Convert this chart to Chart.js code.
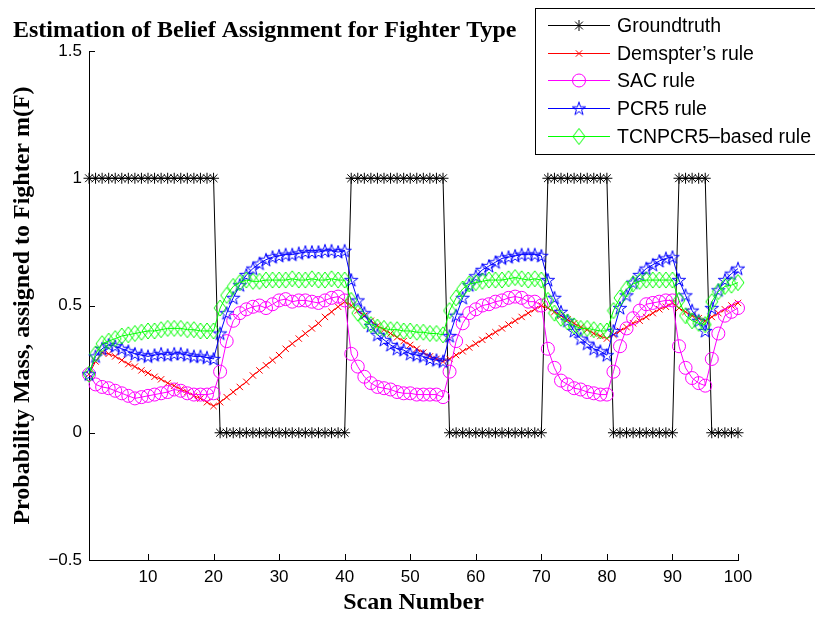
<!DOCTYPE html>
<html>
<head>
<meta charset="utf-8">
<script src="https://cdn.jsdelivr.net/npm/chart.js@4/dist/chart.umd.min.js"></script>
<style>
html, body { margin: 0; padding: 0; background: #fff; }
</style>
</head>
<body>
<canvas id="beliefChart" width="815" height="619"></canvas>
<script>
// scan index 1..100
const scanNumbers = Array.from({ length: 100 }, (_, i) => i + 1);

const groundtruth = [
    1, 1, 1, 1, 1, 1, 1, 1, 1, 1, 1, 1, 1, 1, 1, 1, 1, 1, 1, 1,
    0, 0, 0, 0, 0, 0, 0, 0, 0, 0, 0, 0, 0, 0, 0, 0, 0, 0, 0, 0,
    1, 1, 1, 1, 1, 1, 1, 1, 1, 1, 1, 1, 1, 1, 1,
    0, 0, 0, 0, 0, 0, 0, 0, 0, 0, 0, 0, 0, 0, 0,
    1, 1, 1, 1, 1, 1, 1, 1, 1, 1,
    0, 0, 0, 0, 0, 0, 0, 0, 0, 0,
    1, 1, 1, 1, 1,
    0, 0, 0, 0, 0
];

const dempster = [
    0.23, 0.28, 0.315, 0.31, 0.30, 0.285, 0.27, 0.26, 0.245, 0.235, 0.22, 0.21, 0.195, 0.185, 0.17, 0.16, 0.145, 0.135, 0.12, 0.105,
    0.12, 0.14, 0.16, 0.18, 0.20, 0.225, 0.245, 0.265, 0.285, 0.305, 0.33, 0.35, 0.37, 0.39, 0.41, 0.43, 0.455, 0.475, 0.495, 0.515,
    0.50, 0.48, 0.46, 0.44, 0.42, 0.405, 0.39, 0.375, 0.36, 0.345, 0.33, 0.315, 0.30, 0.29, 0.28,
    0.29, 0.305, 0.32, 0.335, 0.35, 0.365, 0.38, 0.395, 0.41, 0.425, 0.44, 0.455, 0.47, 0.485, 0.50,
    0.49, 0.475, 0.46, 0.445, 0.43, 0.415, 0.405, 0.39, 0.38, 0.37,
    0.385, 0.40, 0.415, 0.43, 0.44, 0.455, 0.47, 0.485, 0.495, 0.51,
    0.49, 0.475, 0.46, 0.45, 0.44,
    0.455, 0.47, 0.485, 0.50, 0.51
];

const sac = [
    0.23, 0.19, 0.18, 0.175, 0.165, 0.155, 0.145, 0.135, 0.14, 0.145, 0.15, 0.155, 0.16, 0.17, 0.165, 0.155, 0.15, 0.15, 0.15, 0.155,
    0.24, 0.36, 0.44, 0.47, 0.485, 0.495, 0.50, 0.49, 0.505, 0.52, 0.525, 0.515, 0.52, 0.52, 0.515, 0.51, 0.52, 0.53, 0.535, 0.52,
    0.31, 0.26, 0.22, 0.195, 0.18, 0.175, 0.17, 0.16, 0.155, 0.155, 0.15, 0.15, 0.15, 0.15, 0.14,
    0.24, 0.36, 0.43, 0.47, 0.485, 0.50, 0.505, 0.515, 0.52, 0.53, 0.535, 0.53, 0.515, 0.515, 0.50,
    0.33, 0.255, 0.205, 0.19, 0.175, 0.17, 0.16, 0.155, 0.15, 0.15,
    0.24, 0.34, 0.41, 0.45, 0.48, 0.505, 0.51, 0.515, 0.52, 0.52,
    0.34, 0.255, 0.215, 0.195, 0.185,
    0.29, 0.39, 0.46, 0.475, 0.49
];

const pcr5 = [
    0.23, 0.30, 0.33, 0.345, 0.34, 0.33, 0.32, 0.31, 0.305, 0.30, 0.305, 0.31, 0.305, 0.31, 0.31, 0.305, 0.30, 0.30, 0.295, 0.29,
    0.39, 0.47, 0.53, 0.58, 0.62, 0.645, 0.665, 0.68, 0.69, 0.695, 0.70, 0.70, 0.705, 0.71, 0.71, 0.71, 0.715, 0.715, 0.71, 0.715,
    0.60, 0.52, 0.47, 0.42, 0.385, 0.365, 0.345, 0.33, 0.325, 0.31, 0.305, 0.30, 0.29, 0.285, 0.28,
    0.38, 0.46, 0.53, 0.58, 0.615, 0.64, 0.655, 0.67, 0.685, 0.69, 0.695, 0.70, 0.70, 0.70, 0.695,
    0.60, 0.53, 0.475, 0.44, 0.40, 0.37, 0.35, 0.33, 0.32, 0.305,
    0.40, 0.49, 0.54, 0.59, 0.62, 0.645, 0.66, 0.675, 0.685, 0.69,
    0.60, 0.54, 0.48, 0.44, 0.40,
    0.49, 0.56, 0.60, 0.625, 0.645
];

const tcnpcr5 = [
    0.23, 0.31, 0.35, 0.36, 0.37, 0.38, 0.385, 0.39, 0.395, 0.40, 0.40, 0.405, 0.41, 0.41, 0.41, 0.405, 0.405, 0.40, 0.40, 0.40,
    0.49, 0.54, 0.575, 0.59, 0.60, 0.595, 0.595, 0.60, 0.60, 0.60, 0.60, 0.605, 0.60, 0.60, 0.605, 0.60, 0.60, 0.605, 0.60, 0.60,
    0.52, 0.47, 0.44, 0.425, 0.415, 0.41, 0.405, 0.405, 0.40, 0.40, 0.395, 0.395, 0.39, 0.39, 0.385,
    0.48, 0.53, 0.565, 0.585, 0.59, 0.595, 0.60, 0.60, 0.60, 0.605, 0.61, 0.605, 0.60, 0.605, 0.60,
    0.52, 0.47, 0.45, 0.435, 0.42, 0.41, 0.41, 0.405, 0.40, 0.40,
    0.48, 0.53, 0.565, 0.585, 0.595, 0.60, 0.60, 0.60, 0.60, 0.60,
    0.52, 0.46, 0.44, 0.43, 0.425,
    0.515, 0.555, 0.575, 0.58, 0.59
];

const seriesLabels = ['Groundtruth', 'Demspter\u2019s rule', 'SAC rule', 'PCR5 rule', 'TCNPCR5\u2013based rule'];
const seriesColors = ['#000000', '#ff0000', '#ff00ff', '#0000ff', '#00ff00'];
const xTickValues = [10, 20, 30, 40, 50, 60, 70, 80, 90, 100];
const yTickValues = [-0.5, 0, 0.5, 1, 1.5];
const yTickLabels = ['\u22120.5', '0', '0.5', '1', '1.5'];

const serif = '"Liberation Serif", "Times New Roman", serif';
const sans = '"Liberation Sans", Arial, sans-serif';

// matlab style pentagram and diamond markers
function makePentagram(color, r) {
    const c = document.createElement('canvas');
    const s = Math.ceil(r * 2 + 2);
    c.width = s; c.height = s;
    const g = c.getContext('2d');
    g.strokeStyle = color;
    g.lineWidth = 1;
    g.beginPath();
    for (let i = 0; i < 10; i++) {
        const a = -Math.PI / 2 + i * Math.PI / 5;
        const rr = i % 2 === 0 ? r : r * 0.382;
        const px = s / 2 + rr * Math.cos(a);
        const py = s / 2 + 0.5 + rr * Math.sin(a);
        if (i === 0) g.moveTo(px, py); else g.lineTo(px, py);
    }
    g.closePath();
    g.stroke();
    return c;
}

function makeDiamond(color, w, h) {
    const c = document.createElement('canvas');
    c.width = w + 2; c.height = h + 2;
    const g = c.getContext('2d');
    g.strokeStyle = color;
    g.lineWidth = 1;
    g.beginPath();
    g.moveTo(c.width / 2, 1);
    g.lineTo(w + 1, c.height / 2);
    g.lineTo(c.width / 2, h + 1);
    g.lineTo(1, c.height / 2);
    g.closePath();
    g.stroke();
    return c;
}

const starImg = makePentagram(seriesColors[3], 7);
const diamondImg = makeDiamond(seriesColors[4], 12, 16);

function pts(values) {
    return values.map((v, i) => ({ x: scanNumbers[i], y: v }));
}

function lineSet(idx, values, style, radius, order) {
    const color = seriesColors[idx];
    return {
        label: seriesLabels[idx],
        data: pts(values),
        borderColor: color,
        backgroundColor: 'rgba(0,0,0,0)',
        borderWidth: 1,
        pointStyle: style,
        pointRadius: radius,
        pointBorderColor: color,
        pointBackgroundColor: 'rgba(0,0,0,0)',
        pointBorderWidth: 1,
        tension: 0,
        clip: false,
        order: order
    };
}

const matlabLegend = {
    id: 'matlabLegend',
    afterDraw(chart) {
        const ctx = chart.ctx;
        ctx.save();
        ctx.fillStyle = '#fff';
        ctx.fillRect(536, 9, 290, 145);
        ctx.strokeStyle = '#000';
        ctx.lineWidth = 1;
        ctx.strokeRect(535.5, 8.5, 290, 146);
        ctx.textBaseline = 'middle';
        chart.data.datasets.forEach((ds, i) => {
            const y = Math.round(25 + i * 27.7);
            const color = seriesColors[i];
            ctx.fillStyle = color;
            ctx.fillRect(548, y, 62, 1);
            ctx.strokeStyle = color;
            ctx.lineWidth = 1;
            ctx.fillStyle = 'rgba(0,0,0,0)';
            Chart.helpers.drawPoint(ctx, {
                pointStyle: ds.pointStyle, radius: ds.pointRadius, borderWidth: 1, rotation: 0
            }, 579, y + 0.5);
            ctx.fillStyle = '#000';
            ctx.font = '19.5px ' + sans;
            ctx.fillText(seriesLabels[i], 617, y + 1.5);
        });
        ctx.restore();
    }
};

// inward tick marks, matlab style
const inwardTicks = {
    id: 'inwardTicks',
    afterDraw(chart) {
        const ctx = chart.ctx;
        const xs = chart.scales.x, ys = chart.scales.y;
        const area = chart.chartArea;
        ctx.save();
        ctx.strokeStyle = '#000';
        ctx.lineWidth = 1;
        ctx.beginPath();
        xTickValues.forEach(v => {
            const px = Math.round(xs.getPixelForValue(v)) + 0.5;
            ctx.moveTo(px, area.bottom);
            ctx.lineTo(px, area.bottom - 6);
        });
        yTickValues.forEach(v => {
            const py = Math.round(ys.getPixelForValue(v)) + 0.5;
            ctx.moveTo(area.left, py);
            ctx.lineTo(area.left + 6, py);
        });
        ctx.stroke();
        ctx.restore();
    }
};

Chart.defaults.color = '#000';

new Chart(document.getElementById('beliefChart'), {
    type: 'line',
    data: {
        datasets: [
            lineSet(0, groundtruth, 'star', 5.5, 5),
            lineSet(1, dempster, 'crossRot', 4.5, 4),
            lineSet(2, sac, 'circle', 6.5, 3),
            lineSet(3, pcr5, starImg, 7, 2),
            lineSet(4, tcnpcr5, diamondImg, 7, 1)
        ]
    },
    options: {
        responsive: false,
        animation: false,
        events: [],
        devicePixelRatio: 1,
        layout: { padding: { left: 13, right: 77, top: 0, bottom: 0 } },
        plugins: {
            legend: { display: false },
            tooltip: { enabled: false },
            title: {
                display: true,
                text: 'Estimation of Belief Assignment for Fighter Type',
                align: 'start',
                color: '#000',
                font: { family: serif, size: 24, weight: 'bold' },
                padding: { top: 16, bottom: 6.2 }
            }
        },
        scales: {
            x: {
                type: 'linear',
                min: 1,
                max: 100,
                afterBuildTicks: (scale) => { scale.ticks = xTickValues.map(v => ({ value: v })); },
                afterFit: (scale) => { scale.height = 59; },
                grid: { display: false, drawTicks: false, tickLength: 0 },
                border: { display: true, color: '#000', width: 1 },
                ticks: { font: { family: sans, size: 17 }, color: '#000', padding: 7, maxRotation: 0 },
                title: {
                    display: true,
                    text: 'Scan Number',
                    color: '#000',
                    font: { family: serif, size: 24, weight: 'bold' },
                    padding: { top: 0, bottom: 1.6 }
                }
            },
            y: {
                min: -0.5,
                max: 1.5,
                afterBuildTicks: (scale) => { scale.ticks = yTickValues.map(v => ({ value: v })); },
                afterFit: (scale) => { scale.width = 76; },
                grid: { display: false, drawTicks: false, tickLength: 0 },
                border: { display: true, color: '#000', width: 1 },
                ticks: {
                    font: { family: sans, size: 17 },
                    color: '#000',
                    padding: 7,
                    callback: (v) => yTickLabels[yTickValues.indexOf(v)]
                },
                title: {
                    display: true,
                    text: 'Probability Mass, assigned to Fighter m(F)',
                    color: '#000',
                    font: { family: serif, size: 24, weight: 'bold' },
                    padding: { top: -5, bottom: 0 }
                }
            }
        }
    },
    plugins: [matlabLegend, inwardTicks]
});
</script>
</body>
</html>
